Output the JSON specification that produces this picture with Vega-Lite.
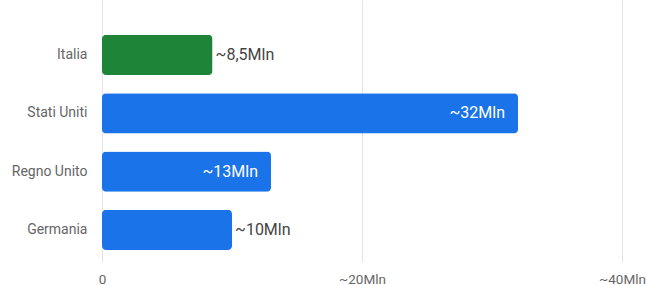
{
  "$schema": "https://vega.github.io/schema/vega-lite/v6.json",
  "autosize": "none",
  "width": 520,
  "height": 262,
  "padding": {"left": 102, "top": 0, "right": 25, "bottom": 23},
  "config": {
    "view": {"stroke": null},
    "font": "Roboto",
    "axis": {"labelFont": "Roboto", "labelColor": "#666666", "labelFontSize": 13.5}
  },
  "data": {
    "values": [
      {"paese": "Italia", "valore": 8.5, "etichetta": "~8,5Mln"},
      {"paese": "Stati Uniti", "valore": 32, "etichetta": "~32Mln"},
      {"paese": "Regno Unito", "valore": 13, "etichetta": "~13Mln"},
      {"paese": "Germania", "valore": 10, "etichetta": "~10Mln"}
    ]
  },
  "encoding": {
    "y": {
      "field": "paese",
      "type": "nominal",
      "sort": null,
      "title": null,
      "scale": {"paddingInner": 0.31, "paddingOuter": 0.4, "align": 0.745},
      "axis": {"domain": false, "ticks": false, "labelPadding": 15, "grid": false, "labelFontSize": 14}
    },
    "x": {
      "field": "valore",
      "type": "quantitative",
      "title": null,
      "scale": {"domain": [0, 40], "nice": false},
      "axis": {
        "values": [0, 20, 40],
        "domain": false,
        "ticks": false,
        "grid": true,
        "gridColor": "#e3e3e3",
        "labelPadding": 10,
        "labelFlush": false,
        "labelBound": false,
        "labelExpr": "datum.value == 0 ? '0' : '~' + datum.value + 'Mln'"
      }
    }
  },
  "layer": [
    {
      "mark": {"type": "bar", "cornerRadius": 4},
      "encoding": {
        "color": {
          "condition": {"test": "datum.paese == 'Italia'", "value": "#1e8538"},
          "value": "#1a73e8"
        }
      }
    },
    {
      "transform": [{"filter": "datum.valore < 12"}],
      "mark": {"type": "text", "align": "left", "dx": 3, "fontSize": 16, "color": "#444444"},
      "encoding": {"text": {"field": "etichetta"}}
    },
    {
      "transform": [{"filter": "datum.valore >= 12"}],
      "mark": {"type": "text", "align": "right", "dx": -13, "fontSize": 16, "color": "#ffffff"},
      "encoding": {"text": {"field": "etichetta"}}
    }
  ]
}
